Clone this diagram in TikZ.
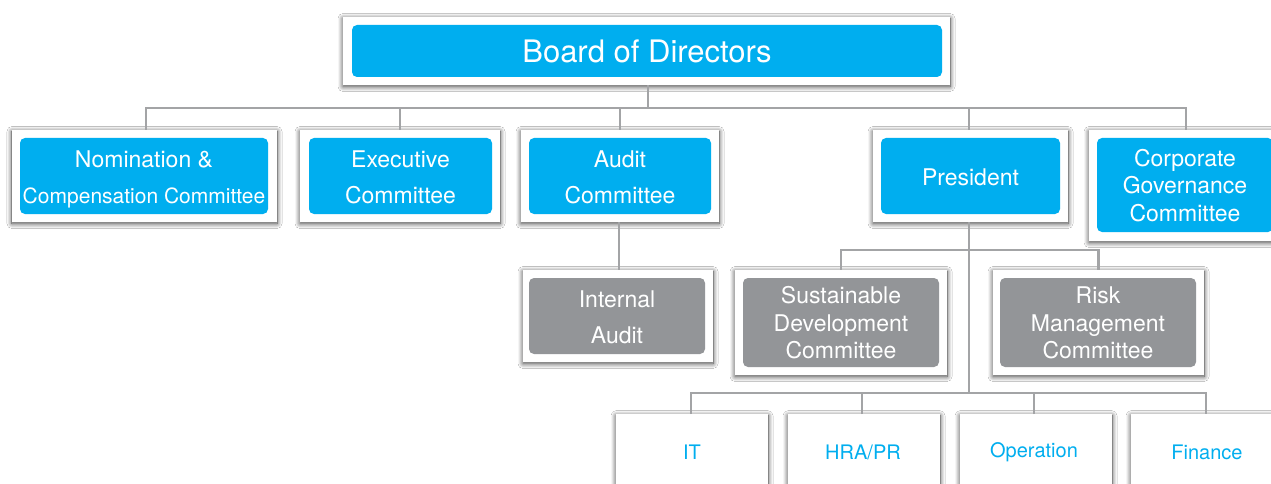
\documentclass[tikz,border=0pt]{standalone}
\usepackage{fontspec}
\setmainfont{TeX Gyre Heros}
\usetikzlibrary{shadows.blur}
\definecolor{orgblue}{HTML}{00AEEF}
\definecolor{orggray}{HTML}{939598}
\definecolor{linegray}{HTML}{A3A4A6}
\tikzset{
  outerbox/.style={draw=none, fill=white, inner sep=0pt,
    blur shadow={shadow xshift=0pt, shadow yshift=-1.5pt, shadow blur radius=5pt, shadow blur steps=12, shadow opacity=75}},
  innerbox/.style={rounded corners=5pt, inner sep=0pt, text=white, align=center},
  bluein/.style={innerbox, fill=orgblue},
  grayin/.style={innerbox, fill=orggray},
  oneline/.style={font=\fontsize{23}{36}\selectfont, text height=18.3pt, text depth=0pt},
  twoline/.style={font=\fontsize{23}{36}\selectfont, text height=54.6pt, text depth=0pt},
  threeline/.style={font=\fontsize{23}{27.5}\selectfont, text height=72pt, text depth=0pt},
  btext/.style={text=orgblue, font=\fontsize{20}{24}\selectfont, inner sep=0pt},
  conn/.style={draw=linegray, line width=2.4pt},
}
\begin{document}
\begin{tikzpicture}[x=1pt,y=-1pt]
\useasboundingbox[fill=white] (0,0) rectangle (1271,484);

% Board
\node[outerbox, minimum width=607, minimum height=68] (board) at (646.5,51) {};
\node[bluein, minimum width=590, minimum height=52, font=\fontsize{31}{36}\selectfont] (board-in) at (647,51) {Board of Directors};

% Level 1
\node[outerbox, minimum width=265, minimum height=92] (nom) at (144.5,176) {};
\node[bluein, twoline, minimum width=248, minimum height=76] (nom-in) at (144,176) {Nomination \&\\\fontsize{21}{36}\selectfont Compensation Committee};

\node[outerbox, minimum width=200, minimum height=92] (exec) at (400,176) {};
\node[bluein, twoline, minimum width=183, minimum height=76] (exec-in) at (400.5,176) {Executive\\Committee};

\node[outerbox, minimum width=198, minimum height=92] (audit) at (620,176) {};
\node[bluein, twoline, minimum width=182, minimum height=76] (audit-in) at (620,176) {Audit\\Committee};

\node[outerbox, minimum width=195, minimum height=92] (pres) at (970.5,176) {};
\node[bluein, oneline, minimum width=179, minimum height=76] (pres-in) at (970.5,176) {President};

\node[outerbox, minimum width=192, minimum height=111] (corp) at (1185,185.5) {};
\node[bluein, threeline, minimum width=176, minimum height=94] (corp-in) at (1185,185) {Corporate\\Governance\\Committee};

% Level 2
\node[outerbox, minimum width=190, minimum height=92] (ia) at (618,316) {};
\node[grayin, twoline, minimum width=176, minimum height=76] (ia-in) at (617,316) {Internal\\Audit};

\node[outerbox, minimum width=212, minimum height=105] (sus) at (841,322.5) {};
\node[grayin, threeline, minimum width=196, minimum height=89] (sus-in) at (841,322.5) {Sustainable\\Development\\Committee};

\node[outerbox, minimum width=211, minimum height=105] (risk) at (1098.5,322.5) {};
\node[grayin, threeline, minimum width=196, minimum height=89] (risk-in) at (1098,322.5) {Risk\\Management\\Committee};

% Bottom level
\node[outerbox, anchor=north, minimum width=152, minimum height=110] (it) at (692,414) {};
\node[btext] (it-t) at (692,452) {IT};
\node[outerbox, anchor=north, minimum width=152, minimum height=110] (hra) at (864,414) {};
\node[btext] (hra-t) at (863,452) {HRA/PR};
\node[outerbox, anchor=north, minimum width=152, minimum height=110] (op) at (1036,414) {};
\node[btext] (op-t) at (1034,452) {Operation};
\node[outerbox, anchor=north, minimum width=152, minimum height=110] (fin) at (1207,414) {};
\node[btext] (fin-t) at (1207,452) {Finance};

% Connectors
\coordinate (j0) at (648,108);
\coordinate (j1) at (969,250);
\coordinate (j2) at (969,393);
\draw[conn] (board.south -| j0) -- (j0);
\draw[conn] (nom.north -| 146,0) |- (j0) -| (corp.north -| 1186,0);
\draw[conn] (exec.north) -- (exec.north |- j0);
\draw[conn] (audit.north -| 620,0) -- (j0 -| 620,0);
\draw[conn] (pres.north -| j1) -- (j0 -| j1);
\draw[conn] (pres.south -| j1) -- (j2);
\draw[conn] (audit.south -| 619,0) -- (ia.north -| 619,0);
\draw[conn] (sus.north) |- (j1) -| (risk.north);
\draw[conn] (it.north -| 691,0) |- (j2) -| (fin.north -| 1206,0);
\draw[conn] (hra.north -| 862,0) -- (j2 -| 862,0);
\draw[conn] (op.north -| 1034,0) -- (j2 -| 1034,0);
\end{tikzpicture}
\end{document}
